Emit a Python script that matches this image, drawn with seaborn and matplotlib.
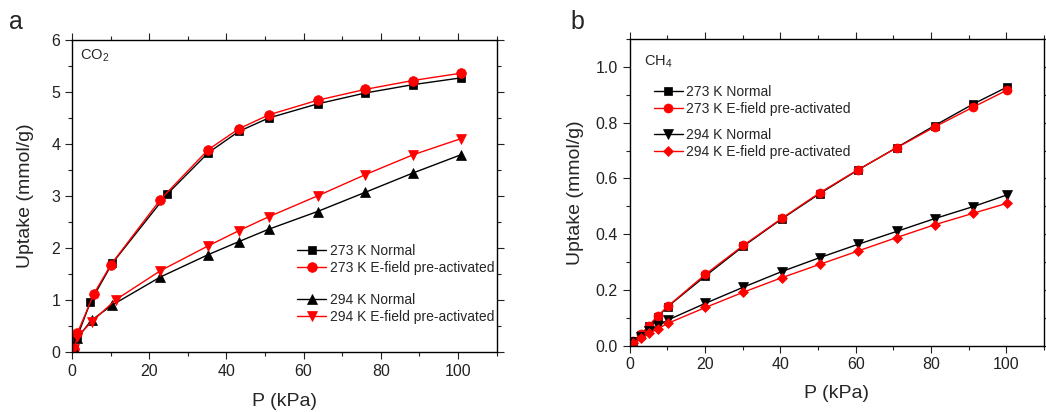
import numpy as np
import pandas as pd
import matplotlib
matplotlib.use('Agg')
import matplotlib.pyplot as plt
from matplotlib.ticker import MultipleLocator
import seaborn as sns

# CO2 uptake (panel a)
co2_p_273n = [0.5, 1.4, 4.8, 10.4, 24.6, 35.3, 43.2, 51.0, 63.6, 76.0, 88.3, 100.7]
co2_u_273n = [0.05, 0.30, 0.96, 1.70, 3.03, 3.83, 4.24, 4.50, 4.77, 4.98, 5.14, 5.27]
co2_p_273e = [0.5, 1.4, 5.7, 10.1, 22.9, 35.3, 43.2, 51.0, 63.6, 76.0, 88.3, 100.7]
co2_u_273e = [0.05, 0.36, 1.12, 1.68, 2.93, 3.89, 4.29, 4.56, 4.84, 5.05, 5.22, 5.36]
co2_p_294n = [0.5, 1.4, 5.1, 10.4, 22.9, 35.3, 43.2, 51.0, 63.6, 76.0, 88.3, 100.7]
co2_u_294n = [0.05, 0.27, 0.61, 0.90, 1.44, 1.87, 2.12, 2.36, 2.70, 3.07, 3.44, 3.79]
co2_p_294e = [0.5, 1.4, 5.1, 11.3, 22.9, 35.3, 43.2, 51.0, 63.6, 76.0, 88.3, 100.7]
co2_u_294e = [0.05, 0.29, 0.58, 1.00, 1.56, 2.04, 2.33, 2.60, 3.00, 3.41, 3.79, 4.10]

# CH4 uptake (panel b)
ch4_p = [0.9, 3.1, 5.1, 7.4, 10.1, 20.1, 30.2, 40.4, 50.5, 60.7, 70.9, 81.0, 91.2, 100.2]
ch4_u_273n = [0.014, 0.040, 0.072, 0.104, 0.140, 0.250, 0.357, 0.455, 0.546, 0.631, 0.711, 0.790, 0.867, 0.928]
ch4_u_273e = [0.015, 0.042, 0.072, 0.106, 0.141, 0.256, 0.360, 0.457, 0.549, 0.632, 0.710, 0.785, 0.856, 0.917]
ch4_u_294n = [0.012, 0.032, 0.053, 0.070, 0.092, 0.152, 0.210, 0.266, 0.316, 0.364, 0.410, 0.456, 0.499, 0.541]
ch4_u_294e = [0.011, 0.026, 0.044, 0.060, 0.080, 0.137, 0.192, 0.244, 0.292, 0.340, 0.388, 0.434, 0.475, 0.511]

labels = ['273 K Normal', '273 K E-field pre-activated', '294 K Normal', '294 K E-field pre-activated']

sns.set_style('ticks')
plt.rcParams['font.family'] = ['Liberation Sans', 'DejaVu Sans']
plt.rcParams['mathtext.fontset'] = 'custom'
plt.rcParams['mathtext.rm'] = 'Liberation Sans'

fig = plt.figure(figsize=(10.46, 4.12), dpi=100)
axa = fig.add_axes([0.0688, 0.146, 0.406, 0.757])
axb = fig.add_axes([0.602, 0.161, 0.396, 0.744])


def draw(ax, xs, ys, markers, colors, msizes):
    handles = []
    for x, y, m, c, ms, lab in zip(xs, ys, markers, colors, msizes, labels):
        sns.lineplot(x=x, y=y, ax=ax, color=c, marker=m, markersize=ms,
                     markeredgecolor=c, markeredgewidth=0.5, linewidth=1.0,
                     sort=False, label=lab, legend=False)
        handles.append(ax.lines[-1])
    return handles


def style(ax, xmax, ymax, ymaj, ymin, xpad, ypad):
    ax.set_xlim(0, xmax)
    ax.set_ylim(0, ymax)
    ax.xaxis.set_major_locator(MultipleLocator(20))
    ax.xaxis.set_minor_locator(MultipleLocator(10))
    ax.yaxis.set_major_locator(MultipleLocator(ymaj))
    ax.yaxis.set_minor_locator(MultipleLocator(ymin))
    ax.tick_params(which='both', labelsize=11.5, colors='#222222', labelcolor='#222222')
    ax.tick_params(which='both', top=True, right=True, direction='in', bottom=False, left=False)
    ax.tick_params(which='both', direction='out', bottom=True, left=True)
    ax.tick_params(which='major', length=5, width=0.8)
    ax.tick_params(which='minor', length=3, width=0.8)
    for s in ax.spines.values():
        s.set_linewidth(1.0)
        s.set_color('black')
    ax.set_xlabel('P (kPa)', fontsize=14, labelpad=xpad)
    ax.set_ylabel('Uptake (mmol/g)', fontsize=14, labelpad=ypad)


def legends(ax, handles, x, y1, y2):
    kw = dict(loc='upper left', frameon=False, fontsize=10, borderpad=0,
              borderaxespad=0, handlelength=2.1, handletextpad=0.25,
              labelspacing=0.22)
    l1 = ax.legend(handles[:2], labels[:2], bbox_to_anchor=(x, y1), **kw)
    ax.add_artist(l1)
    ax.legend(handles[2:], labels[2:], bbox_to_anchor=(x, y2), **kw)


ha = draw(axa, [co2_p_273n, co2_p_273e, co2_p_294n, co2_p_294e],
          [co2_u_273n, co2_u_273e, co2_u_294n, co2_u_294e],
          ['s', 'o', '^', 'v'], ['black', 'red', 'black', 'red'], [6, 7, 7, 7])
style(axa, 110, 6, 1, 0.5, 10, 12)
legends(axa, ha, 0.53, 0.345, 0.188)
axa.text(0.018, 0.975, 'CO$_2$', transform=axa.transAxes, fontsize=10.5, va='top', ha='left')

hb = draw(axb, [ch4_p] * 4, [ch4_u_273n, ch4_u_273e, ch4_u_294n, ch4_u_294e],
          ['s', 'o', 'v', 'D'], ['black', 'red', 'black', 'red'], [5.5, 6.5, 6.5, 5.5])
style(axb, 110, 1.1, 0.2, 0.1, 9, 8)
legends(axb, hb, 0.058, 0.85, 0.71)
axb.text(0.035, 0.955, 'CH$_4$', transform=axb.transAxes, fontsize=10.5, va='top', ha='left')

fig.text(0.009, 0.975, 'a', fontsize=18, va='top', ha='left')
fig.text(0.545, 0.975, 'b', fontsize=18, va='top', ha='left')

fig.savefig('out.png', dpi=100)
